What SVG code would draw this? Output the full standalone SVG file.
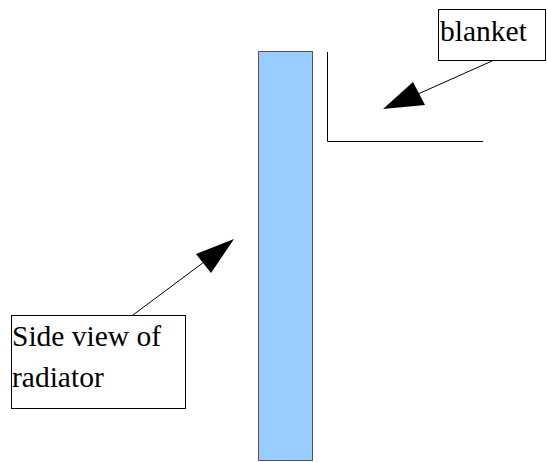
<svg xmlns="http://www.w3.org/2000/svg" width="547" height="462" viewBox="0 0 547 462">
<style>
.box{fill:#fff;stroke:#000;stroke-width:1}
.lbl{font-family:"Liberation Serif","Times New Roman",serif;font-size:29.5px;fill:#000}
.conn{stroke:#000;stroke-width:1;fill:none}
.head{fill:#000;stroke:none}
</style>
<rect width="547" height="462" fill="#fff"/>
<g id="radiator">
<rect x="258.5" y="51.5" width="54" height="409" fill="#99ccff" stroke="#555" stroke-width="1"/>
</g>
<g id="blanket-shape">
<polyline points="327.5,52 327.5,141.5 483,141.5" class="conn"/>
</g>
<g id="blanket-label">
<rect x="438.5" y="9.5" width="107" height="51" class="box"/>
<text x="440" y="41" class="lbl">blanket</text>
</g>
<g id="side-label">
<rect x="11.5" y="315.5" width="174" height="93" class="box"/>
<text x="12" y="346" class="lbl">Side view of</text>
<text x="12" y="387" class="lbl">radiator</text>
</g>
<g id="connectors">
<line x1="492" y1="61" x2="418" y2="94" class="conn"/>
<polygon points="383,109 413,82 425,105" class="head"/>
<line x1="133" y1="315" x2="204" y2="262" class="conn"/>
<polygon points="234,239 196,254 211,273" class="head"/>
</g>
</svg>
